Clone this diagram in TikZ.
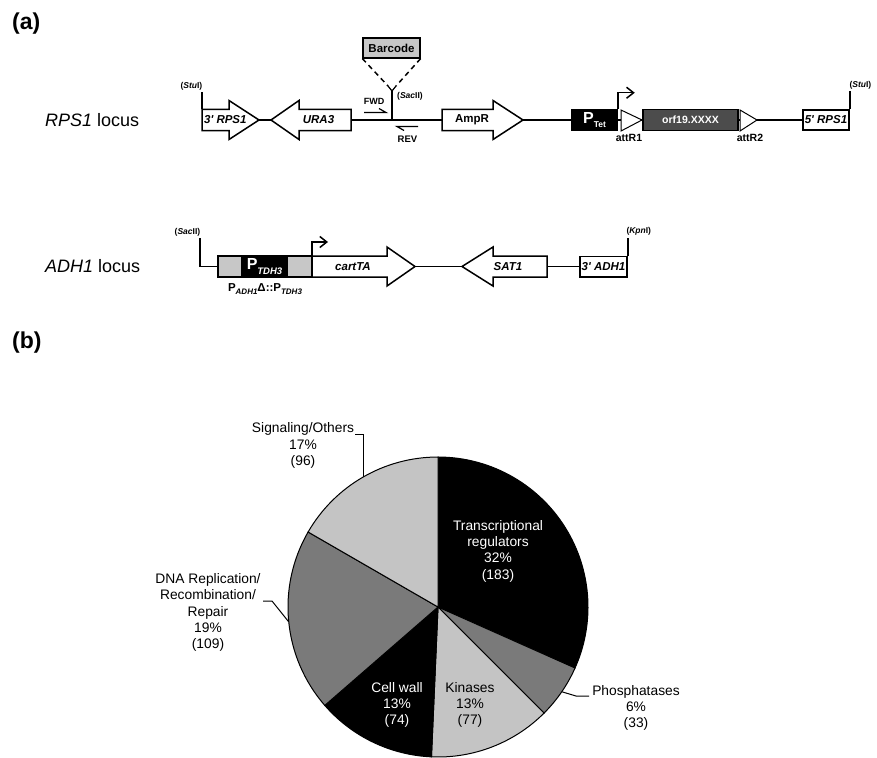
\documentclass[tikz,border=0pt]{standalone}
\usepackage{fontspec}
\setmainfont{Liberation Sans}
\usetikzlibrary{positioning,arrows.meta}

\definecolor{pielight}{gray}{0.77}
\definecolor{piemid}{gray}{0.48}
\definecolor{orfgray}{gray}{0.30}
\definecolor{boxgray}{gray}{0.78}

\tikzset{
  backbone/.style={line width=1.5pt},
  genebox/.style={draw, line width=1.5pt, fill=white},
  genename/.style={font=\fontsize{11.5}{12}\selectfont\bfseries\itshape, inner sep=0pt},
  sitename/.style={font=\fontsize{8.5}{9}\selectfont\bfseries, inner sep=1pt},
  primer/.style={line width=1.2pt},
  tss/.style={line width=1.5pt, -{Straight Barb[length=7pt,width=11pt]}},
  attsite/.style={draw, line width=1pt, fill=white},
  attname/.style={font=\fontsize{10.5}{11}\selectfont\bfseries, inner sep=0pt},
  locusname/.style={anchor=west, font=\fontsize{18}{20}\selectfont, inner sep=0pt},
  panel/.style={anchor=west, font=\fontsize{23}{23}\selectfont\bfseries, inner sep=0pt},
  piecap/.style={font=\fontsize{13.8}{16.3}\selectfont, align=center, inner sep=0pt},
  leader/.style={line width=1pt},
}

\begin{document}
\begin{tikzpicture}[x=1pt, y=-1pt]
\useasboundingbox (0,0) rectangle (877,757);

\node[panel] (pa) at (12,24) {(a)};
\node[panel] (pb) at (12,343) {(b)};

% RPS1 locus
\node[locusname] (rpslocus) at (45,120) {\textit{RPS1} locus};

\coordinate (rpstip) at (259,120);
\coordinate (uratip) at (271,120);
\coordinate (uraend) at (351,120);
\coordinate (ampstart) at (442,120);
\coordinate (amptip) at (523,120);

\node[draw, line width=1.5pt, fill=black, text=white, minimum width=45pt, minimum height=21pt, inner sep=0pt] (ptet) at (594.5,120)
  {\bfseries\fontsize{16}{16}\selectfont P\raisebox{-0.3em}{\fontsize{8.5}{9}\selectfont Tet}};
\node[draw, line width=1.5pt, fill=orfgray, text=white, minimum width=95pt, minimum height=21pt, inner sep=0pt,
  font=\fontsize{10.5}{11}\selectfont\bfseries] (orf) at (690.5,120) {orf19.XXXX};
\node[genebox, minimum width=46pt, minimum height=20pt, genename] (rpsfive) at (826,120) {5\textquotesingle\ RPS1};

\draw[backbone] (rpstip) -- (uratip);
\draw[backbone] (uraend) -- (ampstart);
\draw[backbone] (amptip) -- (ptet.west);
\draw[backbone] (ptet.east) -- (orf.west);
\draw[backbone] (orf.east) -- (rpsfive.west);

\draw[genebox] (202,109.5) -- (229,109.5) -- (229,100.5) -- (rpstip) -- (229,139.5) -- (229,130.5) -- (202,130.5) -- cycle;
\node[genename, anchor=west] (rpsthree) at (204,120) {3\textquotesingle\ RPS1};
\draw[genebox] (uraend |- 0,109.5) -- (299,109.5) -- (299,100.5) -- (uratip) -- (299,139.5) -- (299,130.5) -- (uraend |- 0,130.5) -- cycle;
\node[genename] (ura) at (318.5,120) {URA3};
\draw[genebox] (ampstart |- 0,109.5) -- (493,109.5) -- (493,100.5) -- (amptip) -- (493,139.5) -- (493,130.5) -- (ampstart |- 0,130.5) -- cycle;
\node[genename, font=\fontsize{11.5}{12}\selectfont\bfseries] (amp) at (472,120) {AmpR};

\draw[backbone] (202,109.5) -- (202,92) node[sitename, anchor=south east, xshift=2pt] (stuleft) {(\textit{Stu}I)};
\draw[backbone] (rpsfive.north east) -- ++(0,-18) node[sitename, anchor=south west, xshift=-2pt] (sturight) {(\textit{Stu}I)};

% barcode insertion
\node[draw, line width=1.2pt, fill=boxgray, minimum width=57pt, minimum height=20pt, inner sep=0pt,
  font=\fontsize{11.5}{12}\selectfont\bfseries] (barcode) at (391.5,48) {Barcode};
\coordinate (sactop) at (392,91);
\coordinate (forkl) at (388,86);
\coordinate (forkr) at (396,86);
\draw[backbone] (392,120) -- (sactop);
\draw[primer] (forkl) -- (sactop) -- (forkr);
\draw[backbone, dash pattern=on 5pt off 4pt] (barcode.south west) -- (forkl);
\draw[backbone, dash pattern=on 5pt off 4pt] (barcode.south east) -- (forkr);
\node[sitename, anchor=west] (sacone) at (396,96) {(\textit{Sac}II)};

\draw[primer] (364,112.5) -- (386,112.5) -- (379,108.5);
\node[sitename, font=\fontsize{9}{9}\selectfont\bfseries] (fwd) at (374,101) {FWD};
\draw[primer] (418,126.5) -- (397,126.5) -- (404,130.5);
\node[sitename, font=\fontsize{9.5}{10}\selectfont\bfseries] (rev) at (407.5,139) {REV};

\draw[tss] (ptet.north east) -- ++(0,-16) -- ++(17,0);
\draw[attsite] (621,110) -- (642,120) -- (621,131) -- cycle;
\node[attname] (atta) at (629,138) {attR1};
\draw[attsite] (740,110) -- (757,120) -- (740,131) -- cycle;
\node[attname] (attb) at (750,138) {attR2};

% ADH1 locus
\node[locusname] (adhlocus) at (45,266.5) {\textit{ADH1} locus};

\fill[boxgray] (218,256) rectangle (312,277);
\node[fill=black, text=white, minimum width=47pt, minimum height=21pt, inner sep=0pt] (ptdh) at (264.5,266.5)
  {\bfseries\fontsize{16}{16}\selectfont P\raisebox{-0.3em}{\fontsize{9.5}{10}\selectfont\itshape TDH3}};
\draw[line width=1.5pt] (218,256) rectangle (312,277);
\node[font=\fontsize{11.5}{12}\selectfont\bfseries, inner sep=0pt] (padh) at (265,289)
  {P\raisebox{-0.25em}{\fontsize{8}{8}\selectfont\itshape ADH1}Δ::P\raisebox{-0.25em}{\fontsize{8}{8}\selectfont\itshape TDH3}};

\draw[backbone] (218,266.5) -| (200,238) node[sitename, anchor=south east, xshift=2pt] (sactwo) {(\textit{Sac}II)};
\draw[tss] (312,256) -- (312,242) -- (328,242);

\coordinate (carttip) at (415,266.5);
\coordinate (sattip) at (462,266.5);
\coordinate (satend) at (547,266.5);
\node[genebox, minimum width=47pt, minimum height=20.5pt, genename] (adhthree) at (603.5,266.5) {3\textquotesingle\ ADH1};

\draw[backbone] (carttip) -- (sattip);
\draw[backbone] (satend) -- (adhthree.west);

\draw[genebox] (312,256) -- (387,256) -- (387,247) -- (carttip) -- (387,286) -- (387,277) -- (312,277) -- cycle;
\node[genename] (cart) at (353,266.5) {cartTA};
\draw[genebox] (satend |- 0,256) -- (493,256) -- (493,247) -- (sattip) -- (493,286) -- (493,277) -- (satend |- 0,277) -- cycle;
\node[genename] (sat) at (508,266.5) {SAT1};

\draw[backbone] (adhthree.north east) -- ++(0,-18) node[sitename, anchor=south west, xshift=-3pt] (kpn) {(\textit{Kpn}I)};

% pie chart
\begin{scope}[shift={(438,607)}, yscale=-1]
\foreach \a/\b/\c in {90/-24/black, -24/-45/piemid, -45/-92.5/pielight, -92.5/-139/black, -139/-210/piemid, -210/-270/pielight}
  \draw[line width=1pt, fill=\c] (0,0) -- (\a:150) arc[start angle=\a, end angle=\b, radius=150] -- cycle;
\coordinate (sigpt) at (120:150);
\coordinate (dnapt) at (185.7:150);
\coordinate (phpt) at (-34.4:150);
\end{scope}

\node[piecap, text=white] (trlab) at (498,551) {Transcriptional\\regulators\\32\%\\(183)};
\node[piecap] (phlab) at (636,708) {Phosphatases\\6\%\\(33)};
\node[piecap] (kilab) at (470,705) {Kinases\\13\%\\(77)};
\node[piecap, text=white] (cwlab) at (397,705) {Cell wall\\13\%\\(74)};
\node[piecap] (dnalab) at (208,612.5) {DNA Replication/\\Recombination/\\Repair\\19\%\\(109)};
\node[piecap] (siglab) at (303,445.7) {Signaling/Others\\17\%\\(96)};

\draw[leader] (355,434) -- (363,434) -- (sigpt);
\draw[leader] (263,601) -- (272,601) -- (dnapt);
\draw[leader] (phpt) -- (576,696) -- (589,696);
\end{tikzpicture}
\end{document}
